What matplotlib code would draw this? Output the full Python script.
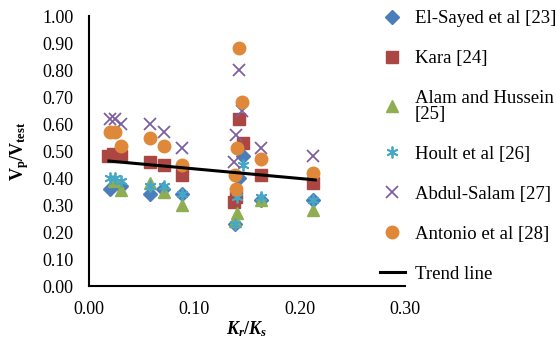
import matplotlib.pyplot as plt
from matplotlib.ticker import MultipleLocator, FormatStrFormatter

# data
elsayed_x = [0.020, 0.030, 0.058, 0.070, 0.088, 0.146, 0.143, 0.139, 0.163, 0.213]
elsayed_y = [0.36, 0.37, 0.34, 0.36, 0.34, 0.48, 0.40, 0.23, 0.32, 0.32]

kara_x = [0.018, 0.023, 0.030, 0.058, 0.071, 0.088, 0.143, 0.146, 0.140, 0.138, 0.163, 0.213]
kara_y = [0.48, 0.49, 0.48, 0.46, 0.45, 0.41, 0.62, 0.53, 0.33, 0.31, 0.41, 0.38]

alam_x = [0.024, 0.030, 0.058, 0.071, 0.088, 0.141, 0.139, 0.163, 0.213]
alam_y = [0.39, 0.355, 0.38, 0.35, 0.30, 0.27, 0.24, 0.32, 0.28]

hoult_x = [0.020, 0.025, 0.030, 0.058, 0.071, 0.088, 0.146, 0.141, 0.139, 0.163, 0.213]
hoult_y = [0.40, 0.40, 0.39, 0.37, 0.37, 0.34, 0.45, 0.33, 0.23, 0.33, 0.32]

abdul_x = [0.020, 0.025, 0.030, 0.058, 0.071, 0.088, 0.143, 0.145, 0.140, 0.138, 0.163, 0.213]
abdul_y = [0.62, 0.62, 0.60, 0.60, 0.57, 0.51, 0.80, 0.65, 0.56, 0.46, 0.51, 0.48]

antonio_x = [0.020, 0.025, 0.030, 0.058, 0.071, 0.088, 0.143, 0.145, 0.141, 0.139, 0.140, 0.163, 0.213]
antonio_y = [0.57, 0.57, 0.52, 0.55, 0.52, 0.45, 0.88, 0.68, 0.51, 0.41, 0.36, 0.47, 0.42]

trend_x = [0.019, 0.215]
trend_y = [0.463, 0.393]

plt.rcParams['font.family'] = ['Liberation Serif', 'DejaVu Serif']
plt.rcParams['mathtext.fontset'] = 'custom'
plt.rcParams['mathtext.rm'] = 'Liberation Serif:bold'
plt.rcParams['mathtext.it'] = 'Liberation Serif:italic:bold'
plt.rcParams['mathtext.bf'] = 'Liberation Serif:bold'

fig = plt.figure(figsize=(5.56, 3.49), dpi=100)
ax = fig.add_axes([0.160, 0.1805, 0.568, 0.7735])

ms = 8.5
ax.plot(elsayed_x, elsayed_y, 'D', ms=7, color='#4A7EBB', label='El-Sayed et al [23]')
ax.plot(kara_x, kara_y, 's', ms=ms, color='#AC4643', label='Kara [24]')
ax.plot(alam_x, alam_y, '^', ms=ms, color='#8FAE52', label='Alam and Hussein\n[25]')
ax.plot(hoult_x, hoult_y, marker=(6, 2, 0), ls='none', ms=ms, mew=1.3,
        color='#46A8C4', label='Hoult et al [26]')
ax.plot(abdul_x, abdul_y, 'x', ms=ms, mew=1.3, color='#7D60A0', label='Abdul-Salam [27]')
ax.plot(antonio_x, antonio_y, 'o', ms=ms + 0.5, color='#E0883A', label='Antonio et al [28]')
ax.plot(trend_x, trend_y, '-', color='black', lw=2.2, label='Trend line')

ax.set_xlim(0, 0.30)
ax.set_ylim(0, 1.0)
ax.xaxis.set_major_locator(MultipleLocator(0.1))
ax.yaxis.set_major_locator(MultipleLocator(0.1))
ax.xaxis.set_major_formatter(FormatStrFormatter('%.2f'))
ax.yaxis.set_major_formatter(FormatStrFormatter('%.2f'))
ax.tick_params(length=0, labelsize=13)
ax.tick_params(axis='x', pad=11)
ax.tick_params(axis='y', pad=11)

for side in ['top', 'right']:
    ax.spines[side].set_visible(False)
for side in ['left', 'bottom']:
    ax.spines[side].set_linewidth(1.5)
    ax.spines[side].set_color('black')

ax.set_xlabel(r'$K_r/K_s$', fontsize=13, labelpad=1)
ax.set_ylabel(r'$\mathbf{V_p/V_{test}}$', fontsize=13, labelpad=8)

leg = fig.legend(loc='upper left', bbox_to_anchor=(0.683, 0.971), frameon=False,
                 fontsize=13.5, handlelength=1.33, handletextpad=0.53, labelspacing=1.22,
                 borderpad=0, borderaxespad=0)
leg.get_texts()[2].set_linespacing(0.9)

fig.savefig('out.png', dpi=100)
